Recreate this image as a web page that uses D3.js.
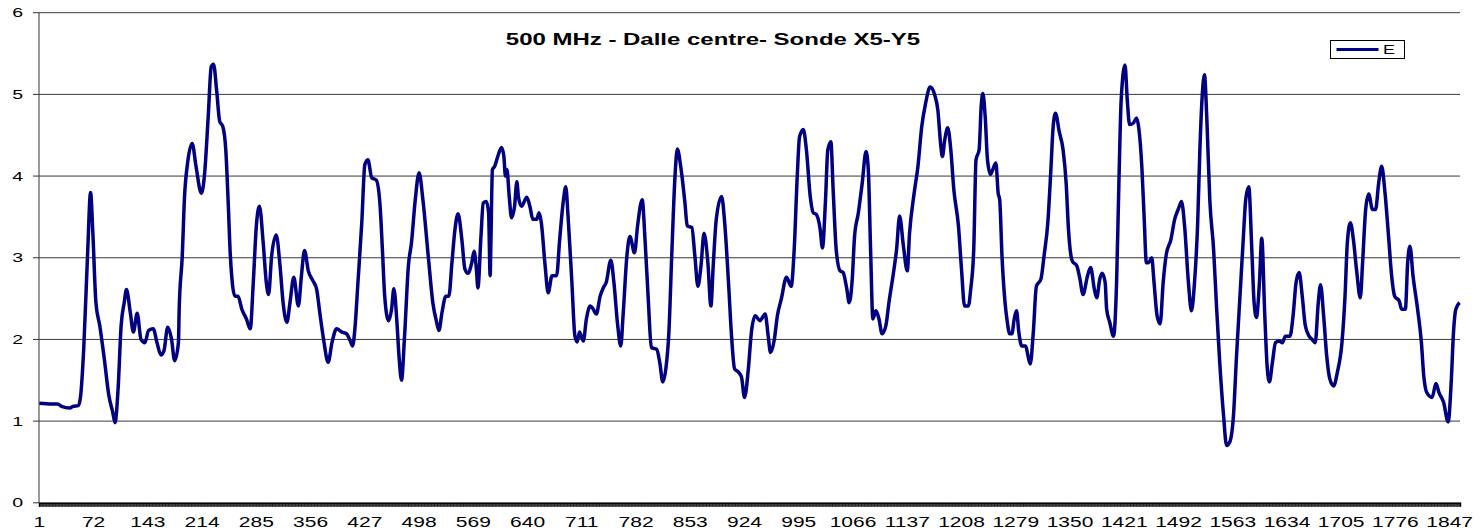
<!DOCTYPE html>
<html>
<head>
<meta charset="utf-8">
<script src="https://cdn.jsdelivr.net/npm/d3@7"></script>
<style>
  body { margin: 0; background: #fff; }
  text { font-family: "Liberation Sans", Arial, sans-serif; }
</style>
</head>
<body>
<div class="container"></div>
<script>
const title = "500 MHz - Dalle centre- Sonde X5-Y5";
const seriesName = "E";
const nCats = 1860;

// category numbers (x) and E values
const cats = [
  1, 17, 25, 30, 41, 45, 52, 55, 59, 64, 68, 71, 75, 80, 86, 92, 97, 100, 104, 108,
  112, 115, 120, 124, 129, 134, 139, 144, 150, 155, 160, 164, 169, 174, 178, 183, 184, 188, 191, 195,
  201, 206, 213, 217, 222, 226, 229, 233, 237, 241, 245, 248, 251, 257, 261, 266, 272, 277, 281, 285,
  289, 294, 298, 301, 305, 311, 316, 320, 325, 329, 334, 340, 344, 348, 353, 359, 364, 368, 373, 379,
  384, 390, 397, 403, 408, 411, 414, 418, 423, 427, 431, 436, 442, 447, 450, 453, 458, 462, 465, 469,
  472, 475, 479, 484, 488, 493, 498, 503, 510, 516, 521, 524, 528, 533, 537, 541, 545, 549, 554, 558,
  562, 567, 570, 573, 575, 579, 582, 586, 589, 591, 592, 594, 597, 601, 606, 609, 611, 613, 616, 619,
  623, 626, 628, 632, 639, 643, 647, 652, 655, 658, 663, 667, 672, 678, 682, 687, 690, 693, 698, 702,
  705, 708, 713, 717, 722, 726, 730, 735, 739, 743, 749, 753, 758, 762, 765, 770, 774, 780, 784, 790,
  794, 798, 802, 809, 813, 817, 821, 825, 829, 833, 836, 841, 846, 849, 855, 859, 863, 867, 871, 876,
  880, 883, 887, 894, 898, 903, 907, 911, 916, 920, 924, 929, 933, 938, 944, 951, 955, 958, 963, 967,
  972, 979, 985, 989, 993, 996, 1001, 1005, 1010, 1014, 1018, 1023, 1026, 1030, 1033, 1037, 1040, 1044, 1049, 1053,
  1058, 1061, 1065, 1068, 1073, 1078, 1083, 1086, 1089, 1092, 1096, 1100, 1104, 1109, 1113, 1119, 1123, 1127, 1132, 1137,
  1140, 1146, 1151, 1156, 1161, 1167, 1173, 1177, 1181, 1183, 1186, 1190, 1194, 1198, 1204, 1208, 1212, 1217, 1220, 1224,
  1227, 1231, 1234, 1236, 1239, 1242, 1246, 1249, 1253, 1256, 1258, 1261, 1265, 1268, 1271, 1274, 1277, 1280, 1283, 1287,
  1292, 1295, 1298, 1302, 1306, 1312, 1316, 1321, 1325, 1328, 1331, 1336, 1341, 1345, 1348, 1353, 1359, 1363, 1367, 1373,
  1377, 1382, 1385, 1389, 1392, 1396, 1398, 1402, 1407, 1411, 1414, 1417, 1422, 1425, 1428, 1433, 1437, 1440, 1444, 1447,
  1450, 1453, 1457, 1460, 1464, 1468, 1472, 1476, 1482, 1487, 1492, 1496, 1500, 1505, 1509, 1513, 1517, 1520, 1523, 1526,
  1529, 1533, 1538, 1542, 1546, 1551, 1555, 1559, 1564, 1568, 1573, 1577, 1580, 1584, 1588, 1591, 1594, 1598, 1601, 1605,
  1608, 1611, 1615, 1619, 1624, 1628, 1632, 1638, 1642, 1646, 1650, 1654, 1658, 1663, 1667, 1671, 1675, 1678, 1682, 1686,
  1690, 1695, 1700, 1706, 1710, 1713, 1717, 1721, 1725, 1730, 1733, 1737, 1741, 1746, 1750, 1754, 1758, 1762, 1767, 1771,
  1775, 1781, 1784, 1789, 1792, 1795, 1799, 1805, 1810, 1813, 1817, 1824, 1829, 1833, 1839, 1845, 1849, 1852, 1855, 1860
];
const eValues = [
  1.22, 1.21, 1.21, 1.18, 1.16, 1.18, 1.19, 1.31, 1.88, 3.02, 3.80, 3.30, 2.45, 2.17, 1.76, 1.31, 1.11, 0.98, 1.39, 2.17,
  2.45, 2.61, 2.33, 2.09, 2.32, 2.00, 1.96, 2.11, 2.13, 1.96, 1.81, 1.86, 2.15, 2.00, 1.74, 1.96, 2.37, 3.02, 3.75, 4.16,
  4.40, 4.12, 3.79, 4.00, 4.73, 5.34, 5.37, 5.05, 4.67, 4.61, 4.32, 3.71, 3.02, 2.53, 2.53, 2.37, 2.25, 2.13, 2.70, 3.39,
  3.63, 3.18, 2.70, 2.55, 3.02, 3.28, 2.90, 2.45, 2.21, 2.45, 2.76, 2.41, 2.78, 3.09, 2.84, 2.72, 2.61, 2.33, 2.00, 1.72,
  1.96, 2.13, 2.09, 2.07, 1.98, 1.92, 2.13, 2.70, 3.43, 4.14, 4.20, 3.98, 3.95, 3.63, 3.10, 2.53, 2.23, 2.37, 2.62, 2.21,
  1.76, 1.50, 2.04, 2.90, 3.18, 3.71, 4.04, 3.71, 3.02, 2.45, 2.21, 2.11, 2.33, 2.53, 2.53, 2.94, 3.35, 3.54, 3.22, 2.86,
  2.81, 2.94, 3.08, 2.86, 2.63, 3.26, 3.67, 3.69, 3.55, 2.78, 3.18, 4.08, 4.12, 4.24, 4.35, 4.24, 4.00, 4.08, 3.75, 3.49,
  3.63, 3.93, 3.75, 3.63, 3.74, 3.63, 3.47, 3.47, 3.55, 3.43, 2.90, 2.57, 2.78, 2.78, 3.22, 3.71, 3.87, 3.51, 2.70, 2.04,
  1.97, 2.09, 1.98, 2.25, 2.41, 2.37, 2.31, 2.53, 2.63, 2.70, 2.97, 2.70, 2.17, 1.92, 2.29, 3.02, 3.26, 3.06, 3.39, 3.71,
  3.18, 2.49, 1.90, 1.88, 1.72, 1.48, 1.64, 2.09, 3.10, 4.00, 4.33, 4.08, 3.67, 3.39, 3.37, 3.02, 2.65, 2.90, 3.30, 2.94,
  2.41, 2.90, 3.47, 3.75, 3.43, 2.70, 2.04, 1.64, 1.60, 1.54, 1.29, 1.64, 2.09, 2.29, 2.23, 2.31, 2.04, 1.84, 2.00, 2.29,
  2.49, 2.76, 2.65, 3.10, 4.00, 4.48, 4.57, 4.32, 3.75, 3.55, 3.53, 3.35, 3.12, 3.71, 4.32, 4.42, 3.83, 3.10, 2.84, 2.82,
  2.61, 2.45, 2.74, 3.26, 3.55, 3.91, 4.30, 4.08, 3.10, 2.25, 2.35, 2.25, 2.07, 2.17, 2.45, 2.82, 3.10, 3.51, 3.14, 2.84,
  3.30, 3.79, 4.12, 4.61, 4.89, 5.09, 4.99, 4.81, 4.36, 4.24, 4.44, 4.59, 4.32, 3.83, 3.39, 2.86, 2.41, 2.41, 2.61, 3.10,
  4.20, 4.32, 4.89, 5.01, 4.73, 4.20, 4.02, 4.08, 4.16, 3.79, 3.71, 3.02, 2.45, 2.21, 2.07, 2.07, 2.25, 2.35, 2.09, 1.92,
  1.92, 1.80, 1.70, 2.09, 2.65, 2.74, 3.02, 3.43, 4.08, 4.61, 4.77, 4.54, 4.32, 3.91, 3.35, 2.96, 2.90, 2.74, 2.55, 2.78,
  2.88, 2.61, 2.51, 2.74, 2.81, 2.70, 2.37, 2.21, 2.04, 2.70, 3.91, 4.93, 5.36, 4.93, 4.63, 4.65, 4.71, 4.59, 4.12, 3.51,
  2.94, 2.94, 3.00, 2.70, 2.29, 2.19, 2.70, 3.04, 3.22, 3.47, 3.60, 3.69, 3.39, 2.70, 2.35, 2.70, 3.39, 4.32, 4.97, 5.24,
  4.73, 3.71, 3.10, 2.37, 1.72, 1.07, 0.70, 0.74, 1.07, 1.80, 2.61, 3.26, 3.71, 3.87, 3.10, 2.45, 2.27, 2.70, 3.24, 2.29,
  1.68, 1.48, 1.72, 1.96, 1.98, 1.96, 2.04, 2.04, 2.29, 2.70, 2.82, 2.53, 2.17, 2.04, 2.00, 1.96, 2.45, 2.67, 2.29, 1.80,
  1.52, 1.43, 1.60, 1.96, 2.53, 3.18, 3.43, 3.22, 2.86, 2.51, 2.94, 3.59, 3.78, 3.59, 3.59, 3.91, 4.12, 3.83, 3.26, 2.78,
  2.53, 2.47, 2.37, 2.37, 2.94, 3.14, 2.78, 2.37, 1.96, 1.56, 1.35, 1.29, 1.46, 1.35, 1.23, 0.99, 1.48, 2.09, 2.37, 2.45
];
const xTickLabels = [1, 72, 143, 214, 285, 356, 427, 498, 569, 640, 711, 782, 853, 924, 995,
  1066, 1137, 1208, 1279, 1350, 1421, 1492, 1563, 1634, 1705, 1776, 1847];
const yTicks = [0, 1, 2, 3, 4, 5, 6];

const width = 1480;
const height = 532;
const plotLeft = 39, plotRight = 1460, plotTop = 12.7, plotBottom = 502.8;
const stretch = 1.5; // the picture is wider than the font

const svg = d3.select(".container")
  .append("svg")
  .attr("width", width)
  .attr("height", height);

const x = d3.scaleLinear().domain([0.5, nCats + 0.5]).range([plotLeft, plotRight]);
const y = d3.scaleLinear().domain([0, 6]).range([plotBottom, plotTop]);

// gridlines
svg.append("g")
  .selectAll("line")
  .data(yTicks.filter(d => d > 0))
  .join("line")
  .attr("x1", plotLeft).attr("x2", plotRight)
  .attr("y1", d => y(d)).attr("y2", d => y(d))
  .attr("stroke", "#3a3a3a")
  .attr("stroke-width", 1);

// y axis
svg.append("line")
  .attr("x1", plotLeft).attr("x2", plotLeft)
  .attr("y1", plotTop).attr("y2", plotBottom)
  .attr("stroke", "#333");

svg.append("g")
  .selectAll("line")
  .data(yTicks)
  .join("line")
  .attr("x1", plotLeft - 6).attr("x2", plotLeft)
  .attr("y1", d => y(d)).attr("y2", d => y(d))
  .attr("stroke", "#333");

svg.append("g")
  .selectAll("text")
  .data(yTicks)
  .join("text")
  .attr("transform", d => `translate(23,${y(d) + 4.5}) scale(${stretch},1)`)
  .attr("text-anchor", "end")
  .attr("font-size", 13)
  .attr("fill", "#000")
  .text(d => d);

// x axis: a tick mark between every category
svg.append("g")
  .attr("transform", `translate(0,${plotBottom})`)
  .call(d3.axisBottom(x)
    .tickValues(d3.range(0.5, nCats + 1, 1))
    .tickSize(4)
    .tickFormat(""))
  .call(g => g.selectAll("line").attr("stroke", "#000").attr("stroke-width", 0.8))
  .call(g => g.select(".domain").attr("stroke", "#111").attr("stroke-width", 1.5));

svg.append("g")
  .selectAll("text")
  .data(xTickLabels)
  .join("text")
  .attr("transform", d => `translate(${x(d)},527) scale(${stretch},1)`)
  .attr("text-anchor", "middle")
  .attr("font-size", 14)
  .attr("fill", "#000")
  .text(d => d);

// series line
const points = cats.map((c, i) => [c, eValues[i]]);
svg.append("path")
  .datum(points)
  .attr("fill", "none")
  .attr("stroke", "#000080")
  .attr("stroke-width", 3.5)
  .attr("stroke-linejoin", "round")
  .attr("d", d3.line()
    .x(d => x(d[0]))
    .y(d => y(d[1]))
    .curve(d3.curveMonotoneX));

// title
svg.append("text")
  .attr("transform", `translate(713,45) scale(${stretch},1)`)
  .attr("text-anchor", "middle")
  .attr("font-size", 16)
  .attr("font-weight", "bold")
  .text(title);

// legend
const legend = svg.append("g");
legend.append("rect")
  .attr("x", 1330.5).attr("y", 40.5)
  .attr("width", 74).attr("height", 18)
  .attr("fill", "#fff")
  .attr("stroke", "#000");
legend.append("line")
  .attr("x1", 1336.5).attr("x2", 1378.5)
  .attr("y1", 49.5).attr("y2", 49.5)
  .attr("stroke", "#000080")
  .attr("stroke-width", 3);
legend.append("text")
  .attr("transform", `translate(1383,53.5) scale(${stretch},1)`)
  .attr("font-size", 12)
  .text(seriesName);
</script>
</body>
</html>
